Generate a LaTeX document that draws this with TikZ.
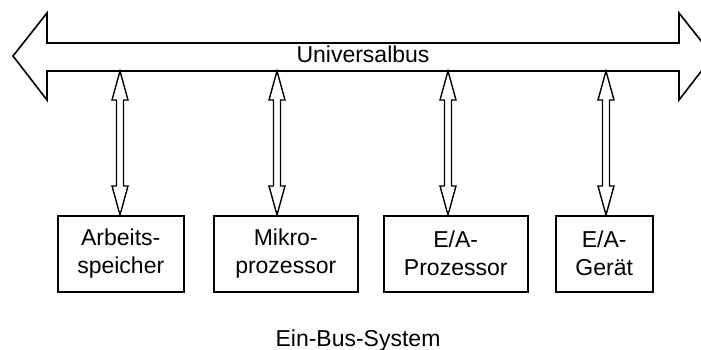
\documentclass[tikz,border=0pt]{standalone}
\usepackage{fontspec}
\setmainfont{Liberation Sans}
\begin{document}
\begin{tikzpicture}[x=1pt,y=-1pt,
  outl/.style={draw=black,line width=1.6pt,line join=miter,fill=white},
  unit/.style={draw=black,line width=1.5pt,fill=white,inner sep=0pt,
    minimum height=76pt,align=center,anchor=north west,
    font=\fontsize{23}{28}\selectfont},
  lbl/.style={font=\fontsize{23}{28}\selectfont,inner sep=0pt}]
\useasboundingbox (0,0) rectangle (701,350);
\clip (0,0) rectangle (701,350);
\fill[white] (0,0) rectangle (701,350);
% connection points
\coordinate (t1) at (120,71); \coordinate (e1) at (120,215);
\coordinate (t2) at (277,71); \coordinate (e2) at (277,215);
\coordinate (t3) at (448,71); \coordinate (e3) at (448,215);
\coordinate (t4) at (606,71); \coordinate (e4) at (606,215);
\foreach \i in {1,2,3,4}{
  \draw[outl,line width=1.4pt] (t\i) -- ++(8,29) -- ++(-4.5,0) -- ++(0,86) -- ++(4.5,0)
    -- (e\i) -- ++(-8,-29) -- ++(4.5,0) -- ++(0,-86) -- ++(-4.5,0) -- cycle;
}
% bus
\draw[outl,fill=none] (13,56) -- (47,13) -- (47,43) -- (679,43) -- (679,13) -- (713,56)
  -- (679,100) -- (679,71) -- (47,71) -- (47,100) -- cycle;
\node[lbl,anchor=base] (bus) at (363,63) {Universalbus};
% units
\node[unit,minimum width=126pt] (b1) at (57,215) {Arbeits-\\speicher};
\node[unit,minimum width=144pt] (b2) at (213,215) {Mikro-\\prozessor};
\node[unit,minimum width=144pt] (b3) at (383,215) {E/A-\\Prozessor};
\node[unit,minimum width=97pt] (b4) at (555,215) {E/A-\\Gerät};
\node[lbl,anchor=base] (cap) at (358,346) {Ein-Bus-System};
\end{tikzpicture}
\end{document}
